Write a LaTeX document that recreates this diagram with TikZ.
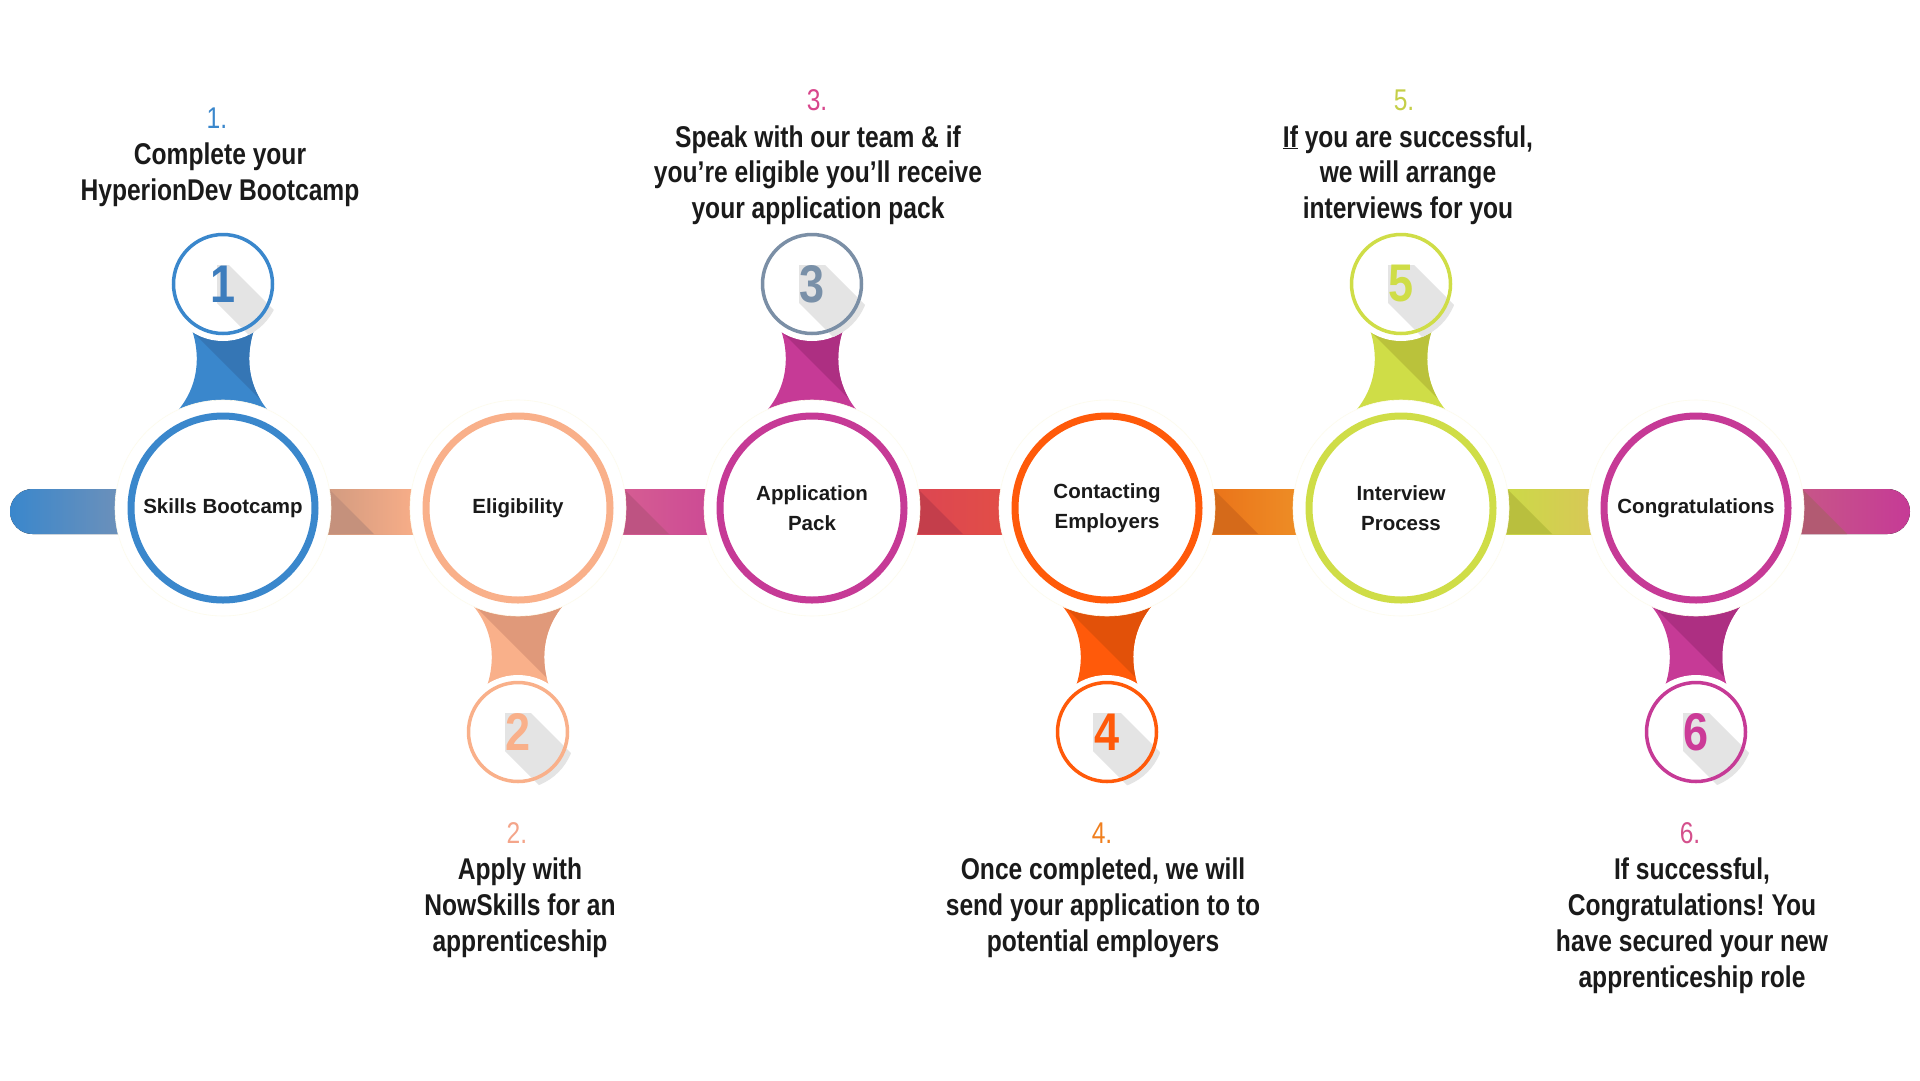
\documentclass[tikz,border=0pt]{standalone}
\usepackage{fontspec}
\newfontfamily\descfont[FakeStretch=0.82]{Liberation Sans}
\newfontfamily\labfont{Liberation Sans}
\newfontfamily\digfont[FakeStretch=0.85]{Liberation Sans}
\frenchspacing
\definecolor{txt}{HTML}{1A1A1A}
\definecolor{c1}{HTML}{3A87CC}
\definecolor{c2}{HTML}{F9B08A}
\definecolor{c3}{HTML}{C63A96}
\definecolor{c4}{HTML}{FF5A0A}
\definecolor{c5}{HTML}{CFDD47}
\definecolor{c6}{HTML}{C63A96}
\definecolor{s3}{HTML}{7B8FA6}
\definecolor{d1}{HTML}{3576B5}
\definecolor{d2}{HTML}{E0997A}
\definecolor{d3}{HTML}{AD2F82}
\definecolor{d4}{HTML}{E25109}
\definecolor{d5}{HTML}{BAC23B}
\definecolor{d6}{HTML}{AD2F82}
\definecolor{g1}{HTML}{3D7DBD}
\definecolor{g3}{HTML}{7990A8}
\definecolor{g6}{HTML}{CC3B98}
\definecolor{n1}{HTML}{3A87CC}
\definecolor{n2}{HTML}{F4A58A}
\definecolor{n3}{HTML}{D8468C}
\definecolor{n4}{HTML}{F07F1E}
\definecolor{n5}{HTML}{C5CF48}
\definecolor{n6}{HTML}{D4508C}
\definecolor{b0l}{HTML}{3A87CC}
\definecolor{b0r}{HTML}{7A93B5}
\definecolor{b1l}{HTML}{D09A80}
\definecolor{b1r}{HTML}{F9AE88}
\definecolor{b1t}{HTML}{C5917C}
\definecolor{b2l}{HTML}{D65E93}
\definecolor{b2r}{HTML}{CC4A94}
\definecolor{b2t}{HTML}{BE5382}
\definecolor{b3l}{HTML}{DC4653}
\definecolor{b3r}{HTML}{E24E46}
\definecolor{b3t}{HTML}{C43E4B}
\definecolor{b4l}{HTML}{EA7219}
\definecolor{b4r}{HTML}{EE8E26}
\definecolor{b4t}{HTML}{D56A1A}
\definecolor{b5l}{HTML}{CBDA47}
\definecolor{b5r}{HTML}{D8C757}
\definecolor{b5t}{HTML}{B9BF3E}
\definecolor{b6l}{HTML}{C75E84}
\definecolor{b6r}{HTML}{C63A96}
\definecolor{b6t}{HTML}{B25A72}
\definecolor{shad}{HTML}{E4E4E4}
\definecolor{halostroke}{HTML}{FDFBEC}
\tikzset{
  desc/.style={anchor=base, inner sep=0pt, text=txt, font=\descfont\bfseries\fontsize{30}{36}\selectfont},
  numlab/.style={anchor=base, inner sep=0pt, font=\descfont\fontsize{30}{36}\selectfont},
  maincirc/.style={circle, minimum size=184pt, line width=7pt, inner sep=0pt, align=center, text=txt, font=\labfont\bfseries\fontsize{20.5}{29.5}\selectfont},
  smallcirc/.style={circle, minimum size=99pt, line width=3.5pt, inner sep=0pt, font=\digfont\bfseries\fontsize{53}{53}\selectfont},
  halo/.style={fill=white, draw=halostroke, line width=0.6pt},
}
% bar between two main circles: cx_i, cx_{i+1}, left colour, right colour, fold colour
\newcommand\barseg[5]{%
  \fill[left color=#3, right color=#4] ({#1+100},489) rectangle ({#2-100},534);
  \fill[#5] ({#1+100},489) -- ({#1+106},489) -- ({#1+151},534) -- ({#1+100},534) -- cycle;}
% neck above a main circle
\newcommand\neckup[3]{%
  \begin{scope}
    \clip ({#1-34},322) .. controls ({#1-22},350) and ({#1-21},388) .. ({#1-52},418)
      -- ({#1+52},418) .. controls ({#1+21},388) and ({#1+22},350) .. ({#1+34},322) -- cycle;
    \fill[#2] ({#1-80},310) rectangle ({#1+80},430);
    \fill[#3] ({#1-40},322) -- ({#1+80},322) -- ({#1+80},442) -- cycle;
  \end{scope}}
% neck below a main circle
\newcommand\neckdown[3]{%
  \begin{scope}
    \clip ({#1-34},694) .. controls ({#1-22},666) and ({#1-21},628) .. ({#1-52},598)
      -- ({#1+52},598) .. controls ({#1+21},628) and ({#1+22},666) .. ({#1+34},694) -- cycle;
    \fill[#2] ({#1-80},586) rectangle ({#1+80},706);
    \fill[#3] ({#1-60},589) -- ({#1+80},589) -- ({#1+80},729) -- cycle;
  \end{scope}}
% long shadow of a digit: cx, cy, half width
\newcommand\longshadow[3]{%
  \begin{scope}
    \clip (#1,#2) circle (57pt);
    \fill[shad] ({#1-#3},{#2-19}) -- ({#1+#3},{#2-19}) -- ({#1+#3+80},{#2+61})
      -- ({#1+#3+80},{#2+99}) -- ({#1-#3+80},{#2+99}) -- ({#1-#3},{#2+19}) -- cycle;
  \end{scope}}
\begin{document}
\begin{tikzpicture}[x=1pt,y=-1pt]
\useasboundingbox (0,0) rectangle (1920,1080);
\fill[white] (0,0) rectangle (1920,1080);

% horizontal bars
\fill[left color=b0l, right color=b0r, rounded corners=22.5pt] (10,489) rectangle (150,534);
\barseg{223}{518}{b1l}{b1r}{b1t}
\barseg{518}{812}{b2l}{b2r}{b2t}
\barseg{812}{1107}{b3l}{b3r}{b3t}
\barseg{1107}{1401}{b4l}{b4r}{b4t}
\barseg{1401}{1696}{b5l}{b5r}{b5t}
\fill[left color=b6l, right color=b6r, rounded corners=22.5pt] (1770,489) rectangle (1910,534);
\fill[b6t] (1770,489) -- (1802,489) -- (1847,534) -- (1770,534) -- cycle;

% necks
\neckup{223}{c1}{d1}
\neckdown{518}{c2}{d2}
\neckup{812}{c3}{d3}
\neckdown{1107}{c4}{d4}
\neckup{1401}{c5}{d5}
\neckdown{1696}{c6}{d6}

% main circles
\foreach \x in {223,518,812,1107,1401,1696} {\path[halo] (\x,508) circle (108pt);}
\node[maincirc, draw=c1] (m1) at (223,508) {Skills Bootcamp};
\node[maincirc, draw=c2] (m2) at (518,508) {Eligibility};
\node[maincirc, draw=c3] (m3) at (812,508) {Application\\Pack};
\node[maincirc, draw=c4] (m4) at (1107,508) {Contacting\\Employers};
\node[maincirc, draw=c5] (m5) at (1401,508) {Interview\\Process};
\node[maincirc, draw=c6] (m6) at (1696,508) {Congratulations};

% small numbered circles
\foreach \x/\y in {223/284,518/732,812/284,1107/732,1401/284,1696/732} {\fill[white] (\x,\y) circle (57pt);}
\longshadow{223}{284}{6}
\longshadow{518}{732}{13}
\longshadow{812}{284}{13}
\longshadow{1107}{732}{14}
\longshadow{1401}{284}{13}
\longshadow{1696}{732}{13}
\node[smallcirc, draw=c1, text=g1] (s1) at (223,284) {1};
\node[smallcirc, draw=c2, text=c2] (s2) at (518,732) {2};
\node[smallcirc, draw=s3, text=g3] (s3) at (812,284) {3};
\node[smallcirc, draw=c4, text=c4] (s4) at (1107,732) {4};
\node[smallcirc, draw=c5, text=c5] (s5) at (1401,284) {5};
\node[smallcirc, draw=c6, text=g6] (s6) at (1696,732) {6};

% descriptions
\node[numlab, text=n1] (t1n) at (217,128) {1.};
\node[desc] (t1a) at (220,164) {Complete your};
\node[desc] (t1b) at (220,200) {HyperionDev Bootcamp};

\node[numlab, text=n3] (t3n) at (817,110) {3.};
\node[desc] (t3a) at (818,147) {Speak with our team \& if};
\node[desc] (t3b) at (818,182) {you’re eligible you’ll receive};
\node[desc] (t3c) at (818,218) {your application pack};

\node[numlab, text=n5] (t5n) at (1404,110) {5.};
\node[desc] (t5a) at (1408,147) {\underline{If} you are successful,};
\node[desc] (t5b) at (1408,182) {we will arrange};
\node[desc] (t5c) at (1408,218) {interviews for you};

\node[numlab, text=n2] (t2n) at (517,843) {2.};
\node[desc] (t2a) at (520,879) {Apply with};
\node[desc] (t2b) at (520,915) {NowSkills for an};
\node[desc] (t2c) at (520,951) {apprenticeship};

\node[numlab, text=n4] (t4n) at (1102,843) {4.};
\node[desc] (t4a) at (1103,879) {Once completed, we will};
\node[desc] (t4b) at (1103,915) {send your application to to};
\node[desc] (t4c) at (1103,951) {potential employers};

\node[numlab, text=n6] (t6n) at (1690,843) {6.};
\node[desc] (t6a) at (1692,879) {If successful,};
\node[desc] (t6b) at (1692,915) {Congratulations! You};
\node[desc] (t6c) at (1692,951) {have secured your new};
\node[desc] (t6d) at (1692,987) {apprenticeship role};
\end{tikzpicture}
\end{document}
